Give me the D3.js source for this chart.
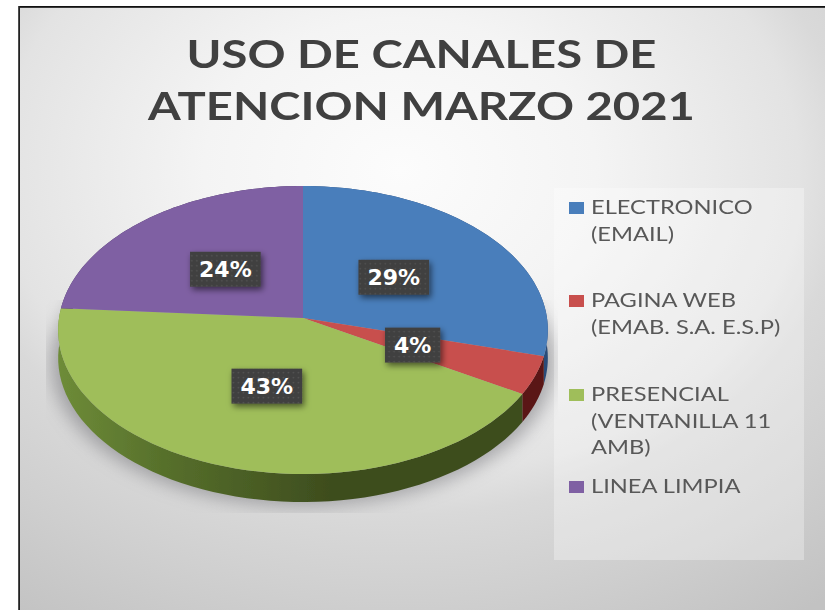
<!DOCTYPE html>
<html><head><meta charset="utf-8">
<style>html,body{margin:0;padding:0;background:#fff}svg{display:block}</style>
<script src="https://cdn.jsdelivr.net/npm/d3@7/dist/d3.min.js"></script>
</head><body><div id="c"></div>
<script>
const titleLines = ["USO DE CANALES DE", "ATENCION MARZO 2021"];
const categories = ["ELECTRONICO (EMAIL)", "PAGINA WEB (EMAB. S.A. E.S.P)", "PRESENCIAL (VENTANILLA 11 AMB)", "LINEA LIMPIA"];
const legendLines = [["ELECTRONICO", "(EMAIL)"], ["PAGINA WEB", "(EMAB. S.A. E.S.P)"], ["PRESENCIAL", "(VENTANILLA 11", "AMB)"], ["LINEA LIMPIA"]];
const values = [29.2, 4.3, 42.6, 23.9];
const colors = ["#4a7ebb", "#c8504e", "#9fbe5a", "#7f60a3"];
const wallColors = ["#2c4c78", "#5a1616", "url(#wallGreen)", "#4a3560"];

const W = 825, H = 610;
const svg = d3.select("#c").append("svg").attr("width", W).attr("height", H);
const defs = svg.append("defs");

const bg = defs.append("radialGradient").attr("id", "bg").attr("gradientUnits", "userSpaceOnUse")
  .attr("cx", 400).attr("cy", 170).attr("r", 700)
  .attr("gradientTransform", "translate(0,170) scale(1,0.77) translate(0,-170)");
[[0, "#fcfcfc"], [.28, "#f4f4f4"], [.57, "#e3e3e3"], [.64, "#d9d9d9"], [.8, "#cfcfcf"], [1, "#c2c2c2"]]
  .forEach(([o, c]) => bg.append("stop").attr("offset", o).attr("stop-color", c));
const wg = defs.append("linearGradient").attr("id", "wallGreen").attr("gradientUnits", "userSpaceOnUse")
  .attr("x1", 58).attr("x2", 330).attr("y1", 0).attr("y2", 0);
[[0, "#6e8c38"], [.4, "#566f2b"], [1, "#3e4d1e"]]
  .forEach(([o, c]) => wg.append("stop").attr("offset", o).attr("stop-color", c));
defs.append("filter").attr("id", "soft").attr("x", "-5%").attr("y", "-20%").attr("width", "110%").attr("height", "140%")
  .append("feGaussianBlur").attr("stdDeviation", .5);
const fb = defs.append("filter").attr("id", "shadow").attr("x", "-20%").attr("y", "-20%").attr("width", "140%").attr("height", "140%");
fb.append("feGaussianBlur").attr("stdDeviation", 9);
const fd = defs.append("filter").attr("id", "boxShadow").attr("x", "-30%").attr("y", "-30%").attr("width", "170%").attr("height", "170%");
fd.append("feDropShadow").attr("dx", 2).attr("dy", 3).attr("stdDeviation", 3).attr("flood-color", "#000").attr("flood-opacity", .55);
const pat = defs.append("pattern").attr("id", "dots").attr("width", 5).attr("height", 5).attr("patternUnits", "userSpaceOnUse");
pat.append("rect").attr("width", 5).attr("height", 5).attr("fill", "#404040");
pat.append("circle").attr("cx", 1.5).attr("cy", 1.5).attr("r", .8).attr("fill", "#565656");
defs.append("clipPath").attr("id", "shadowClip").append("rect").attr("x", 46).attr("y", 300).attr("width", 512).attr("height", 213);

// chart frame
svg.append("rect").attr("x", 19).attr("y", 6).attr("width", W - 19).attr("height", H - 6).attr("fill", "url(#bg)");
svg.append("rect").attr("x", 19).attr("y", 6).attr("width", W).attr("height", 1.8).attr("fill", "#111");
svg.append("rect").attr("x", 18.2).attr("y", 6).attr("width", 1.8).attr("height", H).attr("fill", "#222");

// perspective pie
const cx = 303, apexY = 318, k = 0.0833, depth = 28;
const xS = d3.scaleLinear().domain([-1, 1]).range([cx - 244, cx + 244]);
const yS = d3.scaleLinear().domain([-1, 1]).range([apexY - 143, apexY + 143]);
const project = (a, r) => {
  const v = r * Math.sin(a), u = -r * Math.cos(a), t = 1 / (1 - k * u);
  return [xS(v * t), yS(u * t)];
};
const arcs = d3.pie().sort(null)(values);
const line = d3.line();
const rim = (a0, a1) => d3.range(0, 61).map(i => project(a0 + (a1 - a0) * i / 60, 1));

const full = rim(0, 2 * Math.PI);
svg.append("g").attr("clip-path", "url(#shadowClip)")
  .append("path")
  .attr("d", line(full.map(([x, y]) => [cx + (x - cx) * 1.03, y + depth + 4])) + "Z")
  .attr("fill", "#6a6a70").attr("opacity", .52).attr("filter", "url(#shadow)");

const pie = svg.append("g").attr("filter", "url(#soft)");
pie.selectAll("path.wall").data(arcs).join("path").attr("class", "wall")
  .attr("d", d => {
    const top = rim(d.startAngle, d.endAngle);
    const bottom = top.slice().reverse().map(([x, y]) => [x, y + depth]);
    return line(top.concat(bottom)) + "Z";
  })
  .attr("fill", (d, i) => wallColors[i]);
pie.selectAll("path.top").data(arcs).join("path").attr("class", "top")
  .attr("d", d => line([[xS(0), yS(0)]].concat(rim(d.startAngle, d.endAngle))) + "Z")
  .attr("fill", (d, i) => colors[i]);

// data labels
const fmt = d3.format(".0f");
const labels = svg.append("g");
arcs.forEach((d, i) => {
  const [lx, ly] = project((d.startAngle + d.endAngle) / 2, 0.48);
  const g = labels.append("g").attr("transform", `translate(${lx},${ly})`);
  const rect = g.append("rect").attr("fill", "url(#dots)").attr("filter", "url(#boxShadow)");
  const t = g.append("text").attr("text-anchor", "middle").attr("y", 8)
    .attr("font-family", "DejaVu Sans").attr("font-weight", 700).attr("font-size", 22)
    .attr("fill", "#fff").text(fmt(d.value) + "%");
  const w = t.node().getComputedTextLength() + 18;
  rect.attr("x", -w / 2).attr("y", -17.5).attr("width", w).attr("height", 35);
});

// title
const title = svg.append("g").attr("filter", "url(#soft)");
titleLines.forEach((s, i) => {
  title.append("text").attr("transform", `translate(421.5,${68 + i * 52}) scale(1.21,1)`)
    .attr("text-anchor", "middle").attr("font-family", "Lato").attr("font-weight", 700)
    .attr("font-size", 39).attr("fill", "#404040").text(s);
});

// legend
svg.append("rect").attr("x", 554).attr("y", 188).attr("width", 250).attr("height", 372)
  .attr("fill", "#fff").attr("opacity", .3);
const legendBase = [214, 307, 401, 493];
const legend = svg.append("g").attr("filter", "url(#soft)");
legendLines.forEach((lines, i) => {
  legend.append("rect").attr("x", 569).attr("y", legendBase[i] - 12).attr("width", 15).attr("height", 12)
    .attr("fill", colors[i]);
  lines.forEach((s, j) => {
    legend.append("text").attr("transform", `translate(591,${legendBase[i] + j * 26.5}) scale(1.28,1)`)
      .attr("font-family", "Lato").attr("font-size", 18.5).attr("fill", "#595959").text(s);
  });
});
</script></body></html>
